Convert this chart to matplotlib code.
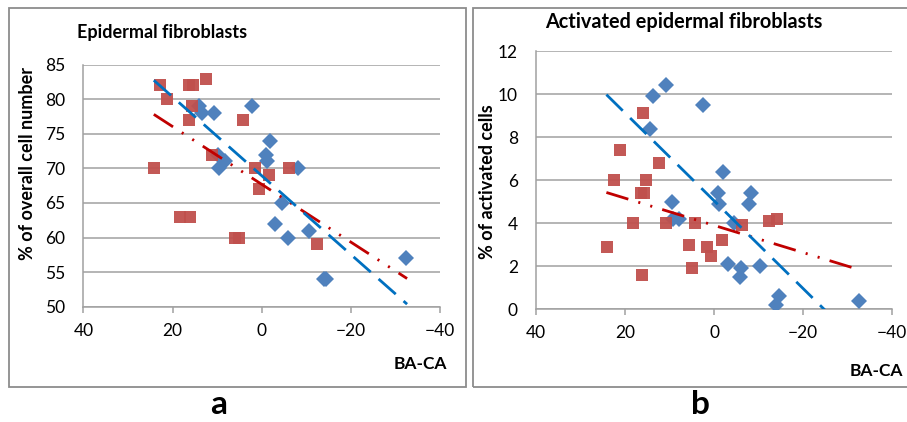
import matplotlib
matplotlib.use('Agg')
import matplotlib.pyplot as plt
from matplotlib.patches import Rectangle
import numpy as np

plt.rcParams['font.family'] = ['Lato', 'DejaVu Sans']
plt.rcParams['lines.scale_dashes'] = False

# panel a: % of overall cell number vs BA-CA
a_blue_x = [14.0, 13.5, 10.8, 2.2, 9.7, 8.2, 9.6, -1.9, -0.9, -1.1, -8.1,
            -4.6, -3.0, -5.8, -10.6, -14.0, -14.5, -32.4]
a_blue_y = [79, 78, 78, 79, 72, 71, 70, 74, 72, 71, 70,
            65, 62, 60, 61, 54, 54, 57]
a_red_x = [22.7, 21.2, 16.3, 15.3, 12.6, 15.7, 16.2, 4.3, 11.1, 24.1, 1.6,
           -1.7, 0.7, -6.2, 18.3, 16.1, 6.0, 5.0, -12.3]
a_red_y = [82, 80, 82, 82, 83, 79, 77, 77, 72, 70, 70,
           69, 67, 70, 63, 63, 60, 60, 59]
a_blue_trend = (0.570, 68.95)   # slope, intercept
a_red_trend = (0.418, 67.7)

# panel b: % of activated cells vs BA-CA
b_blue_x = [10.8, 13.8, 2.4, 14.4, -1.9, -0.8, -1.1, -8.3, -7.8, 9.5, 9.3,
            8.0, -4.5, -3.2, -6.0, -5.7, -10.4, -14.6, -13.9, -32.5]
b_blue_y = [10.4, 9.9, 9.5, 8.4, 6.4, 5.4, 4.9, 5.4, 4.9, 5.0, 4.2,
            4.2, 4.0, 2.1, 1.9, 1.5, 2.0, 0.6, 0.2, 0.4]
b_red_x = [16.0, 21.1, 12.5, 22.6, 15.4, 16.4, 15.7, 18.3, 10.9, 4.3, 24.1,
           16.1, 5.6, 4.9, 1.5, 0.7, -1.8, -6.2, -12.4, -14.2]
b_red_y = [9.1, 7.4, 6.8, 6.0, 6.0, 5.4, 5.4, 4.0, 4.0, 4.0, 2.9,
           1.6, 3.0, 1.9, 2.9, 2.5, 3.2, 3.9, 4.1, 4.2]
b_blue_trend = (0.204, 5.04)
b_red_trend = (0.0632, 3.90)

trend_range = (24.2, -32.6)

blue = '#4F81BD'
red = '#C0504D'
blueLine = '#0070C0'
redLine = '#C00000'
gray = '#A0A0A0'

fig = plt.figure(figsize=(9.07, 4.22), dpi=100)


def plot(rect, bx, by, rx, ry, btrend, rtrend, ylim, ystep):
    ax = fig.add_axes(rect)
    ax.plot(bx, by, 'D', color=blue, markersize=8.3, markeredgewidth=0, zorder=3)
    ax.plot(rx, ry, 's', color=red, markersize=8.2, markeredgewidth=0,
            alpha=0.95, zorder=4)

    xs = np.array(trend_range)
    ax.plot(xs, btrend[0] * xs + btrend[1], color=blueLine, lw=2.0,
            dashes=(16.5, 7.5), dash_capstyle='butt', zorder=6)
    ax.plot(xs, rtrend[0] * xs + rtrend[1], color=redLine, lw=2.0,
            dashes=(16.5, 7.5, 1.5, 7.5, 1.5, 7.5), dash_capstyle='butt',
            zorder=5)

    ax.set_xlim(40, -40)
    ax.set_ylim(*ylim)
    ax.set_xticks([40, 20, 0, -20, -40])
    ax.set_yticks(np.arange(ylim[0], ylim[1] + 0.01, ystep))
    ax.grid(True, axis='y', color=gray, lw=1.1)
    ax.set_axisbelow(True)
    for s in ['top', 'right']:
        ax.spines[s].set_visible(False)
    for s in ['left', 'bottom']:
        ax.spines[s].set_color(gray)
        ax.spines[s].set_linewidth(1.1)
    ax.tick_params(axis='x', direction='out', length=4.5, width=1.1,
                   color=gray, labelsize=12.5, pad=7)
    ax.tick_params(axis='y', length=0, labelsize=12.5, pad=13)
    return ax


plot([0.0919, 0.2732, 0.3933, 0.5735], a_blue_x, a_blue_y, a_red_x, a_red_y,
     a_blue_trend, a_red_trend, (50, 85), 5)
plot([0.591, 0.267, 0.3928, 0.612], b_blue_x, b_blue_y, b_red_x, b_red_y,
     b_blue_trend, b_red_trend, (0, 12), 2)

# panel frames
fig.patches.append(Rectangle((0.0099, 0.0829), 0.5039, 0.898,
                             transform=fig.transFigure, fill=False,
                             edgecolor='#8C8C8C', lw=1.3))
fig.patches.append(Rectangle((0.5215, 0.0829), 0.49, 0.898,
                             transform=fig.transFigure, fill=False,
                             edgecolor='#8C8C8C', lw=1.3))

fig.text(0.085, 0.91, 'Epidermal fibroblasts', fontsize=13,
         fontweight='bold', va='baseline')
fig.text(0.601, 0.934, 'Activated epidermal fibroblasts', fontsize=14.3,
         fontweight='bold', va='baseline')
fig.text(0.030, 0.6126, '% of overall cell number', fontsize=13,
         fontweight='bold', rotation=90, ha='center', va='center')
fig.text(0.538, 0.570, '% of activated cells', fontsize=13,
         fontweight='bold', rotation=90, ha='center', va='center')
fig.text(0.4928, 0.1374, 'BA-CA', fontsize=12.5, fontweight='bold',
         ha='right', va='center')
fig.text(0.9956, 0.1209, 'BA-CA', fontsize=12.5, fontweight='bold',
         ha='right', va='center')
fig.text(0.2415, 0.02, 'a', fontsize=24, fontweight='bold',
         ha='center', va='baseline')
fig.text(0.7726, 0.02, 'b', fontsize=24, fontweight='bold',
         ha='center', va='baseline')

fig.savefig('out.png', dpi=100)
